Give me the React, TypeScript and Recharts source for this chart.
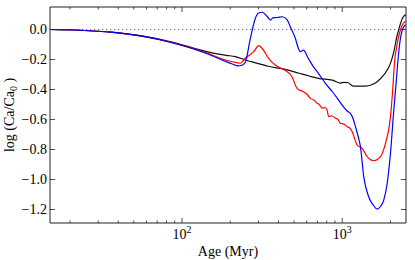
import React from "react";
import { LineChart, Line, XAxis, YAxis, ReferenceLine, ReferenceArea } from "recharts";

// ages in Myr, values are log(Ca/Ca0)
const blackAges = [15, 23, 36, 55, 88, 142, 189, 215, 248, 287, 346, 441, 532, 620, 710, 868, 974, 1030, 1093, 1130, 1174, 1300, 1396, 1500, 1652, 1816, 2000, 2097, 2200, 2254, 2310, 2377, 2447, 2500];
const blackVals = [0, -0.005, -0.017, -0.041, -0.085, -0.147, -0.172, -0.181, -0.203, -0.222, -0.245, -0.266, -0.29, -0.31, -0.326, -0.337, -0.357, -0.352, -0.355, -0.368, -0.377, -0.378, -0.377, -0.372, -0.348, -0.303, -0.226, -0.15, -0.04, 0.0, 0.04, 0.075, 0.093, 0.097];

const redAges = [15, 23, 36, 55, 88, 142, 189, 206, 224, 231, 248, 280, 301, 316, 347, 382, 421, 441, 486, 522, 572, 600, 632, 665, 697, 720, 748, 780, 804, 823, 860, 907, 940, 974, 1020, 1073, 1110, 1152, 1238, 1331, 1430, 1573, 1732, 1861, 2000, 2060, 2120, 2200, 2310, 2400, 2500];
const redVals = [0, -0.005, -0.018, -0.043, -0.089, -0.155, -0.205, -0.215, -0.222, -0.225, -0.192, -0.148, -0.108, -0.125, -0.192, -0.237, -0.262, -0.272, -0.315, -0.392, -0.415, -0.43, -0.459, -0.47, -0.492, -0.5, -0.525, -0.52, -0.537, -0.581, -0.575, -0.592, -0.6, -0.625, -0.63, -0.648, -0.655, -0.68, -0.77, -0.792, -0.848, -0.875, -0.848, -0.759, -0.581, -0.42, -0.22, -0.1, 0.0, 0.04, 0.055];

const blueAges = [15, 23, 36, 55, 88, 142, 189, 206, 224, 235, 248, 267, 287, 299, 317, 341, 356, 371, 393, 423, 454, 474, 510, 532, 548, 572, 614, 660, 710, 785, 868, 933, 1017, 1077, 1125, 1174, 1209, 1262, 1299, 1362, 1462, 1560, 1652, 1732, 1816, 1908, 2000, 2097, 2160, 2230, 2300, 2377, 2447, 2500];
const blueVals = [0, -0.005, -0.018, -0.043, -0.09, -0.16, -0.215, -0.23, -0.243, -0.24, -0.22, -0.059, 0.075, 0.108, 0.115, 0.085, 0.063, 0.079, 0.08, 0.085, 0.063, 0.019, -0.059, -0.125, -0.148, -0.137, -0.192, -0.248, -0.292, -0.359, -0.415, -0.459, -0.515, -0.545, -0.559, -0.6, -0.648, -0.72, -0.781, -0.981, -1.115, -1.17, -1.197, -1.18, -1.137, -1.025, -0.825, -0.54, -0.38, -0.2, -0.07, 0.0, 0.025, 0.03];

const xTicks = [20, 30, 40, 50, 60, 70, 80, 90, 100, 200, 300, 400, 500, 600, 700, 800, 900, 1000, 2000];
const majorX = [100, 1000];
const yTicks = [0, -0.2, -0.4, -0.6, -0.8, -1.0, -1.2];

const W = 415;
const H = 260;
const TOP = 7;
const LEFT = 50;
const RIGHT = 406;
const BOTTOM = 223;
const FONT = "'Liberation Serif', 'DejaVu Serif', serif";

const toData = (ages: number[], vals: number[]) => ages.map((a, i) => ({ age: a, v: vals[i] }));
const blackData = toData(blackAges, blackVals);
const redData = toData(redAges, redVals);
const blueData = toData(blueAges, blueVals);

function XTick({ x, payload }: any) {
  const major = majorX.includes(payload.value);
  const len = major ? 5 : 2.5;
  return (
    <g>
      <line x1={x} x2={x} y1={BOTTOM} y2={BOTTOM - len} stroke="#222" strokeWidth={0.8} />
      <line x1={x} x2={x} y1={TOP} y2={TOP + len} stroke="#222" strokeWidth={0.8} />
      {major && (
        <text x={x} y={239} textAnchor="middle" fontFamily={FONT} fontSize={14} fill="#000">
          10
          <tspan fontSize={10} dy={-6}>{Math.round(Math.log10(payload.value))}</tspan>
        </text>
      )}
    </g>
  );
}

function YTick({ y, payload }: any) {
  const v = payload.value;
  const label = (v < 0 ? "\u2212" : "") + Math.abs(v).toFixed(1);
  return (
    <g>
      <line x1={LEFT} x2={LEFT + 5} y1={y} y2={y} stroke="#222" strokeWidth={0.8} />
      <line x1={RIGHT - 5} x2={RIGHT} y1={y} y2={y} stroke="#222" strokeWidth={0.8} />
      <text x={47} y={y} dy="0.35em" textAnchor="end" fontFamily={FONT} fontSize={14} fill="#000">
        {label}
      </text>
    </g>
  );
}

export default function App() {
  return (
    <div style={{ position: "absolute", left: 0, top: 0, width: W, height: H, background: "#fff" }}>
      <LineChart width={W} height={H} margin={{ top: TOP, right: W - RIGHT, left: 0, bottom: 0 }}>
        <XAxis
          dataKey="age"
          type="number"
          scale="log"
          domain={[15, 2500]}
          allowDataOverflow
          ticks={xTicks}
          interval={0}
          height={H - BOTTOM}
          axisLine={false}
          tickLine={false}
          tick={(p: any) => <XTick {...p} />}
        />
        <YAxis
          type="number"
          domain={[-1.29, 0.15]}
          allowDataOverflow
          ticks={yTicks}
          interval={0}
          width={LEFT}
          axisLine={false}
          tickLine={false}
          tick={(p: any) => <YTick {...p} />}
        />
        <ReferenceLine y={0} stroke="#666" strokeDasharray="1.2 2.8" strokeWidth={1} />
        <Line data={blackData} dataKey="v" type="monotone" stroke="#111" strokeWidth={1.2} dot={false} isAnimationActive={false} />
        <Line data={redData} dataKey="v" type="monotone" stroke="#ff0000" strokeWidth={1.2} dot={false} isAnimationActive={false} />
        <Line data={blueData} dataKey="v" type="monotone" stroke="#0000ff" strokeWidth={1.2} dot={false} isAnimationActive={false} />
        <ReferenceArea x1={15} x2={2500} y1={-1.29} y2={0.15} fill="none" stroke="#222" strokeWidth={1} />
      </LineChart>
      <svg width={W} height={H} style={{ position: "absolute", left: 0, top: 0, pointerEvents: "none" }}>
        <text x={228} y={256} textAnchor="middle" fontFamily={FONT} fontSize={14} fill="#000">
          Age (Myr)
        </text>
        <text x={14} y={115} transform="rotate(-90 14 115)" textAnchor="middle" fontFamily={FONT} fontSize={14} fill="#000">
          log (Ca/Ca
          <tspan fontSize={10} dy={3}>0</tspan>
          <tspan dy={-3}> )</tspan>
        </text>
      </svg>
    </div>
  );
}
